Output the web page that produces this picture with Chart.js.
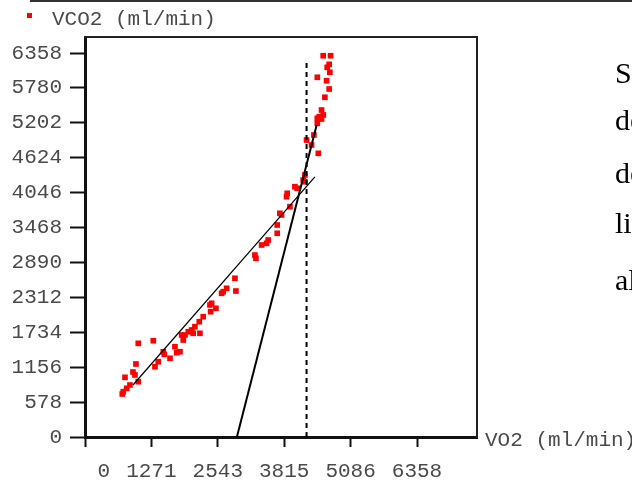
<!DOCTYPE html>
<html>
<head>
<meta charset="utf-8">
<script src="https://cdn.jsdelivr.net/npm/chart.js@4.4.1/dist/chart.umd.min.js"></script>
<style>
  body { margin: 0; background: #fff; }
  #wrap { position: relative; width: 632px; height: 484px; overflow: hidden; }
  #wrap canvas { position: absolute; left: 0; top: 0; }
  .lbl { position: absolute; font-family: "Liberation Mono", monospace; font-size: 21px; color: #4a4a4a; white-space: nowrap; line-height: 1; }
  .txt { position: absolute; left: 615px; font-family: "Liberation Serif", serif; font-size: 30px; color: #000; line-height: 1; white-space: nowrap; }
  #rule { position: absolute; left: 30px; top: 0; width: 602px; height: 2px; background: #333; }
  #mark { position: absolute; left: 27px; top: 13px; width: 5px; height: 5px; background: #f00; }
</style>
</head>
<body>
<div id="wrap">
  <canvas id="vChart" width="632" height="484"></canvas>
  <div id="rule"></div>
  <div id="mark"></div>
  <div class="lbl" style="left:52px; top:9px;">VCO2 (ml/min)</div>
  <div class="lbl" style="left:485px; top:430px;">VO2 (ml/min)</div>
  <div class="txt" style="top:58px;">S</div>
  <div class="txt" style="top:105px;">de</div>
  <div class="txt" style="top:158px;">de</div>
  <div class="txt" style="top:208px;">li</div>
  <div class="txt" style="top:265px;">al</div>
</div>
<script>
// data
const vo2 = [714, 733, 798, 861, 766, 919, 957, 976, 1020, 1020,
    1308, 1340, 1403, 1499, 1518, 1628, 1723, 1755, 1819, 1851,
    1882, 1915, 1978, 2042, 2073, 2105, 2201, 2188, 2264, 2406,
    2393, 2425, 2507, 2616, 2647, 2712, 2890, 2871, 3254, 3273,
    3382, 3478, 3508, 3681, 3681, 3732, 3765, 3924, 3860, 3872,
    4019, 4063, 4178, 4211, 4211, 4243, 4339, 4383, 4468, 4449,
    4449, 4487, 4530, 4563, 4530, 4594, 4676, 4449, 4626, 4689,
    4638, 4676, 4561, 4703];
const vco2 = [712, 750, 806, 861, 988, 1076, 1027, 1209, 916, 1551,
    1594, 1164, 1247, 1412, 1369, 1303, 1495, 1396, 1412, 1689,
    1606, 1689, 1743, 1772, 1717, 1826, 1717, 1909, 1992, 2075,
    2186, 2214, 2131, 2379, 2406, 2462, 2417, 2628, 3013, 2959,
    3179, 3207, 3262, 3373, 3510, 3704, 3676, 3813, 3979, 4035,
    4144, 4118, 4255, 4227, 4338, 4917, 4835, 5000, 4697, 5194,
    5277, 5304, 5414, 5332, 5265, 5625, 5762, 5956, 5899, 6039,
    6121, 6171, 6313, 6313];

// fitted lines (end points) and threshold
const fitX = [919, 4403];
const fitY = [861, 4306];
const steepX = [2909, 4437];
const steepY = [0, 5166];
const threshX = [4243, 4243];
const threshY = [0, 6260];

const xTicks = [0, 1271, 2543, 3815, 5086, 6358];
const yTicks = [0, 578, 1156, 1734, 2312, 2890, 3468, 4046, 4624, 5202, 5780, 6358];
const xMax = 7507;
const yMax = 6623;

function pairs(xs, ys) {
    return xs.map(function (x, i) { return { x: x, y: ys[i] }; });
}

const tickFont = { family: 'Liberation Mono', size: 21 };
const tickColor = '#4a4a4a';

const ctx = document.getElementById('vChart');
new Chart(ctx, {
    type: 'scatter',
    data: {
        datasets: [{
            type: 'line',
            data: pairs(fitX, fitY),
            borderColor: '#000',
            borderWidth: 1.2,
            pointRadius: 0,
            fill: false
        }, {
            type: 'line',
            data: pairs(steepX, steepY),
            borderColor: '#000',
            borderWidth: 2,
            pointRadius: 0,
            fill: false
        }, {
            type: 'line',
            data: pairs(threshX, threshY),
            borderColor: '#000',
            borderWidth: 2,
            borderDash: [5, 4],
            pointRadius: 0,
            fill: false
        }, {
            label: 'VCO2 (ml/min)',
            data: pairs(vo2, vco2),
            pointStyle: 'rect',
            pointRadius: 4,
            backgroundColor: '#ff0000',
            borderWidth: 0
        }]
    },
    options: {
        responsive: false,
        animation: false,
        events: [],
        layout: { padding: { left: 0, right: 155, top: 37, bottom: 0 } },
        plugins: {
            legend: { display: false },
            tooltip: { enabled: false }
        },
        scales: {
            x: {
                type: 'linear',
                position: 'bottom',
                min: 0,
                max: xMax,
                afterBuildTicks: function (s) { s.ticks = xTicks.map(function (v) { return { value: v }; }); },
                afterFit: function (s) { s.height = 47; },
                grid: { drawOnChartArea: false, drawTicks: true, tickLength: 10, tickWidth: 2, tickColor: '#111' },
                border: { display: true, color: '#111', width: 3 },
                ticks: {
                    color: tickColor,
                    font: tickFont,
                    padding: 12,
                    maxRotation: 0,
                    autoSkip: false,
                    callback: function (v) { return v === 0 ? '   0' : String(v); }
                }
            },
            y: {
                type: 'linear',
                position: 'left',
                min: 0,
                max: yMax,
                afterBuildTicks: function (s) { s.ticks = yTicks.map(function (v) { return { value: v }; }); },
                afterFit: function (s) { s.width = 85; },
                grid: { drawOnChartArea: false, drawTicks: true, tickLength: 15, tickWidth: 2, tickColor: '#111' },
                border: { display: true, color: '#111', width: 3 },
                ticks: {
                    color: tickColor,
                    font: tickFont,
                    padding: 8,
                    autoSkip: false,
                    callback: function (v) { return String(v); }
                }
            },
            xTop: {
                type: 'linear',
                position: 'top',
                afterFit: function (s) { s.height = 0; },
                grid: { display: false, drawTicks: false },
                border: { display: true, color: '#222', width: 2 },
                ticks: { display: false }
            },
            yRight: {
                type: 'linear',
                position: 'right',
                afterFit: function (s) { s.width = 0; },
                grid: { display: false, drawTicks: false },
                border: { display: true, color: '#222', width: 2 },
                ticks: { display: false }
            }
        }
    }
});
</script>
</body>
</html>
